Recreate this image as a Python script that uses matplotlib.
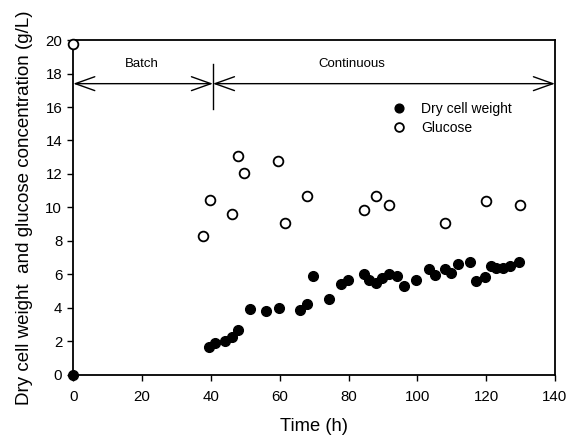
import matplotlib
matplotlib.use("Agg")
import matplotlib.pyplot as plt

plt.rcParams['font.family'] = ['Liberation Sans', 'DejaVu Sans']

# Dry cell weight (g/L)
dcw_time = [0, 39.4, 41.1, 44.0, 46.0, 47.9, 51.3, 56.0, 59.8, 65.9, 67.8, 69.7,
            74.3, 77.8, 79.9, 84.4, 86.0, 88.1, 89.6, 91.7, 94.1, 96.2, 99.6,
            103.4, 105.1, 108.0, 109.9, 111.7, 115.3, 117.0, 119.6, 121.3,
            123.0, 124.8, 126.9, 129.6]
dcw_value = [0, 1.66, 1.86, 2.02, 2.22, 2.66, 3.90, 3.80, 3.98, 3.88, 4.21, 5.89,
             4.51, 5.41, 5.65, 5.99, 5.65, 5.49, 5.75, 6.01, 5.89, 5.29, 5.65,
             6.29, 5.95, 6.31, 6.05, 6.60, 6.74, 5.61, 5.85, 6.50,
             6.40, 6.35, 6.50, 6.74]

# Glucose (g/L)
glc_time = [0, 37.7, 39.6, 46.0, 47.9, 49.6, 59.6, 61.6, 67.8, 84.4, 88.1, 91.7,
            108.0, 119.9, 129.8]
glc_value = [19.8, 8.28, 10.43, 9.63, 13.1, 12.03, 12.8, 9.07, 10.69, 9.87, 10.67,
             10.13, 9.07, 10.37, 10.13]

x_ticks = [0, 20, 40, 60, 80, 100, 120, 140]
y_ticks = [0, 2, 4, 6, 8, 10, 12, 14, 16, 18, 20]

fig = plt.figure(figsize=(5.68, 4.37), dpi=100)
ax = fig.add_axes([0.129, 0.143, 0.848, 0.765])

ax.plot(dcw_time, dcw_value, 'o', color='black', markersize=7,
        label='Dry cell weight', clip_on=False, zorder=3)
ax.plot(glc_time, glc_value, 'o', markerfacecolor='white', markeredgecolor='black',
        markeredgewidth=1.3, markersize=7, label='Glucose', clip_on=False, zorder=3)

ax.set_xlim(0, 140)
ax.set_ylim(0, 20)
ax.set_xticks(x_ticks)
ax.set_yticks(y_ticks)
ax.tick_params(direction='out', length=4, width=1, labelsize=10.8, colors='black')
ax.tick_params(axis='x', pad=7)
ax.tick_params(axis='y', pad=4)
for s in ax.spines.values():
    s.set_linewidth(1.3)

ax.set_xlabel('Time (h)', fontsize=13.2, labelpad=10)
ax.set_ylabel('Dry cell weight  and glucose concentration (g/L)', fontsize=13.5,
              labelpad=9)

# Batch / Continuous arrows
arrow_y = 17.4
ap = dict(arrowstyle='<->,head_length=1.4,head_width=0.5', color='black', lw=1.0,
          shrinkA=0, shrinkB=0)
ax.annotate('', xy=(0, arrow_y), xytext=(40.6, arrow_y), arrowprops=ap)
ax.annotate('', xy=(40.6, arrow_y), xytext=(140, arrow_y), arrowprops=ap,
            annotation_clip=False)
ax.plot([40.6, 40.6], [15.9, 18.6], color='black', lw=1.0)
ax.text(20, 18.6, 'Batch', ha='center', va='center', fontsize=9.5)
ax.text(81, 18.6, 'Continuous', ha='center', va='center', fontsize=9.5)

leg = ax.legend(loc='center left', bbox_to_anchor=(0.662, 0.766), frameon=False,
                fontsize=10, handletextpad=1.1, labelspacing=0.35, markerscale=0.9,
                handlelength=1.0, borderaxespad=0, borderpad=0)

fig.savefig('out.png', dpi=100)
